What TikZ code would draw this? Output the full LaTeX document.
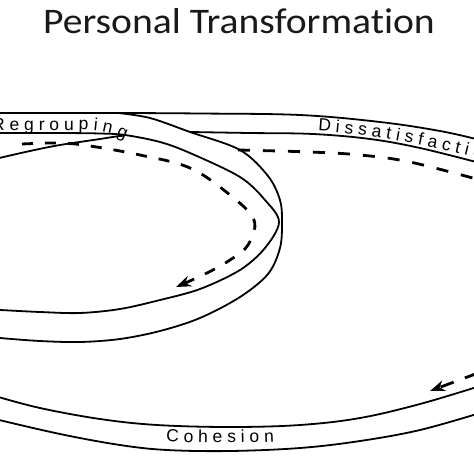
\documentclass[tikz,border=0pt]{standalone}
\usepackage{fontspec}
\setmainfont{Liberation Sans}
\newfontfamily\titlefont[Ligatures=NoCommon]{Carlito}
\usetikzlibrary{decorations.text,arrows.meta}
\newcommand\bandfont{\fontsize{17.5}{18}\selectfont}
\begin{document}
\begin{tikzpicture}[x=1pt,y=-1pt,
  edge/.style={line width=1.8pt, black, line cap=round, line join=round},
  flow/.style={line width=2.8pt, black, dash pattern=on 11pt off 12pt,
               -{Stealth[length=15pt,width=11pt]}},
  bandtext/.style={decorate, decoration={text along path, text align=#1}}
]
\useasboundingbox (0,0) rectangle (474,474);
\clip (0,0) rectangle (474,474);

% title
\node[anchor=base, text=black!90] (title) at (239,33)
  {\titlefont\fontsize{36}{40}\selectfont\scalebox{1.10}[1]{Personal Transformation}};

% outer band, top edge (shared with Regrouping band at the left)
\draw[edge] plot[smooth, tension=0.6] coordinates
  {(-5,113) (60,113) (120,113) (200,113.5) (300,115) (380,122) (440,131) (480,140)};
% outer band, lower edge of the top part (Dissatisfaction)
\draw[edge] plot[smooth, tension=0.6] coordinates
  {(190,132) (250,133) (313,134) (370,139) (420,148) (480,163)};

% inner loop, outer edge
\draw[edge] plot[smooth, tension=0.55] coordinates
  {(118,113) (150,118) (190,132) (240,150) (268,176) (280,200) (282,222)
   (280,248) (268,274) (240,297) (200,318) (160,331) (120,339) (80,342)
   (40,341) (0,338) (-5,337)};
% inner loop, inner edge
\draw[edge] plot[smooth, tension=0.55] coordinates
  {(-5,133) (60,133) (100,133.5) (125,135) (160,142) (190,153) (240,177)
   (265,200) (279,222) (265,248) (240,270) (200,289) (160,300) (120,309)
   (80,313) (40,312) (0,310) (-5,310)};
% rising edge at the left
\draw[edge] plot[smooth, tension=0.6] coordinates
  {(-5,159) (30,151) (60,145) (100,139) (125,135)};

% outer band, bottom part (Cohesion)
\draw[edge] plot[smooth, tension=0.6] coordinates
  {(-5,396) (40,408) (100,419) (157,425) (230,427) (300,425) (360,418)
   (420,404) (480,386)};
\draw[edge] plot[smooth, tension=0.6] coordinates
  {(-5,419) (60,434) (120,445) (167,450) (230,451) (300,448) (360,441)
   (420,430) (480,413)};

% dashed flow, inner loop
\draw[flow] plot[smooth, tension=0.6] coordinates
  {(22,144) (60,143) (90,146) (140,155) (190,168) (230,195) (254,220)
   (248,245) (230,260) (205,274) (176,287)};
% dashed flow, outer loop (top)
\draw[line width=2.8pt, dash pattern=on 12pt off 13pt] plot[smooth, tension=0.6]
  coordinates {(238,150) (310,152) (360,155) (410,162) (480,180)};
% dashed flow, outer loop (bottom right)
\draw[flow, dash pattern=on 14pt off 12pt] (478,373) -- (430,391);

% band labels
\path[bandtext=right, decoration={text={|\bandfont|R e g r o u p i n g}}]
  (-85,130) -- (80,130) .. controls (100,130) and (113,133) .. (125,139);
\path[bandtext=left, decoration={text={|\bandfont|D i s s a t i s f a c t i o n}}]
  (318,131) .. controls (380,135) and (440,146) .. (560,180);
\path[bandtext=center, decoration={text={|\bandfont|C o h e s i o n}}]
  (100,437) .. controls (170,445) and (270,445) .. (340,437);
\end{tikzpicture}
\end{document}
